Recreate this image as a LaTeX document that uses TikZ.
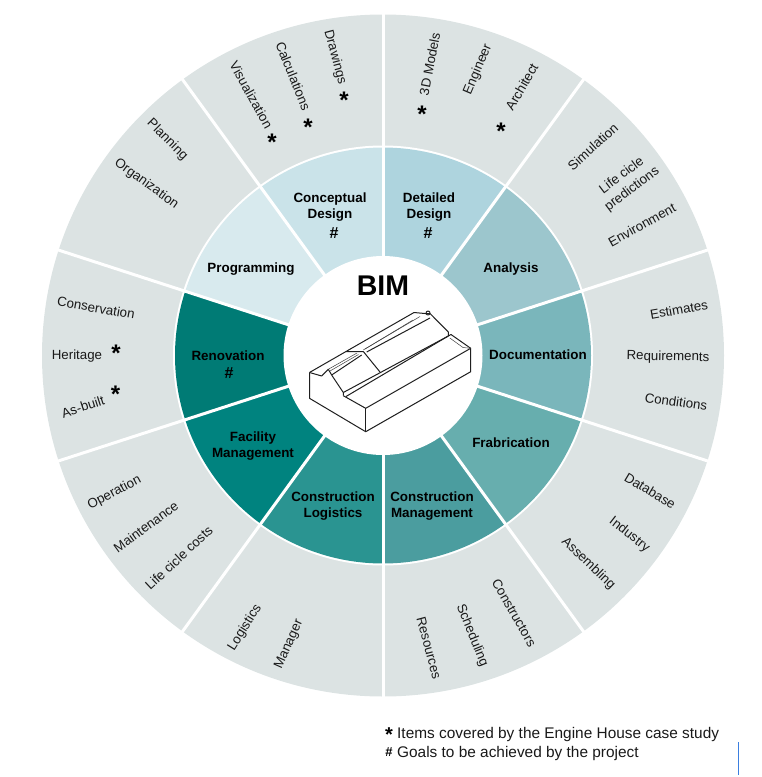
\documentclass[tikz,border=0pt]{standalone}
\usepackage{fontspec}
\setmainfont{Liberation Sans}
\definecolor{ringgrey}{HTML}{DCE3E3}
\definecolor{sA}{HTML}{CAE3E9}
\definecolor{sB}{HTML}{AED4DE}
\definecolor{sC}{HTML}{9CC6CD}
\definecolor{sD}{HTML}{7AB6BB}
\definecolor{sE}{HTML}{67AEAE}
\definecolor{sF}{HTML}{4B9D9F}
\definecolor{sG}{HTML}{2A9491}
\definecolor{sH}{HTML}{00837F}
\definecolor{sI}{HTML}{007B75}
\definecolor{sJ}{HTML}{D8EAEE}
\definecolor{marker}{HTML}{3B7FE0}
\tikzset{
 x=1pt,y=-1pt,
 lab/.style={font=\fontsize{13.3}{17}\selectfont,text=black!90,inner sep=0pt,text height=10pt,text depth=1pt},
 labtwo/.style={font=\fontsize{13.3}{17}\selectfont,text=black!90,inner sep=0pt,align=center},
 head/.style={font=\bfseries\fontsize{13.4}{16}\selectfont,text=black,inner sep=0pt,text height=11pt,text depth=1pt},
 headtwo/.style={font=\bfseries\fontsize{13.4}{16}\selectfont,text=black,inner sep=0pt,align=center},
 goalmark/.style={font=\bfseries\fontsize{16}{16}\selectfont,inner sep=0pt,text=black},
 covermark/.style={font=\bfseries\fontsize{24}{24}\selectfont,inner sep=0pt,text=black,anchor=base},
 legendmark/.style={font=\bfseries\fontsize{20}{20}\selectfont,inner sep=0pt,text=black,anchor=base},
 legend/.style={font=\fontsize{15.4}{16}\selectfont,inner sep=0pt,anchor=base west,text=black!90},
 bld/.style={draw=black!88,line width=1pt,line join=round,fill=none},
 bldthin/.style={draw=black!75,line width=0.5pt,line join=round},
}
\begin{document}
\begin{tikzpicture}
\useasboundingbox (0,0) rectangle (762,777);
\coordinate (c) at (383,355.5);
% rings
\fill[ringgrey] (c) circle[radius=341];
\fill[white] (c) circle[radius=210];
\foreach \a/\col in {90/sB,54/sC,18/sD,-18/sE,-54/sF,-90/sG,-126/sH,-162/sI,162/sJ,126/sA}{
  \fill[\col] (c) -- ++(\a:208 and -208) arc[start angle=\a,delta angle=-36,x radius=208,y radius=-208] -- cycle;
}
\foreach \a in {90,54,18,-18,-54,-90,-126,-162,162,126}{
  \draw[white,line width=3pt] (c) -- ++(\a:343 and -343);
}
\fill[white] (c) circle[radius=99.5];
% centre title
\node[font=\bfseries\fontsize{28.5}{29}\selectfont,inner sep=0pt,text=black] (bim) at (383,286) {BIM};
% building
\coordinate (A) at (309.5,372.5);
\coordinate (BL) at (309.5,398.3);
\coordinate (FB) at (365.7,431.7);
\coordinate (RB) at (470.7,371.7);
\coordinate (RT) at (470.7,348.3);
\coordinate (FT) at (365.7,408.3);
\coordinate (WL) at (343.3,395.7);
\coordinate (R1) at (346,351.5);
\coordinate (R2) at (363.3,351.5);
\coordinate (R3) at (414,312.5);
\coordinate (R4) at (425,313.5);
\coordinate (R5) at (430,313.5);
\coordinate (E1) at (448.3,332);
\coordinate (E2) at (448.3,336);
\coordinate (E3) at (343.3,392.5);
\draw[bld] (A) -- (BL) -- (FB) -- (RB) -- (RT) -- (FT) -- (WL);
\draw[bld] (FT) -- (FB);
\draw[bld] (A) -- (321.7,376) -- (328.3,369.3) -- (332.3,376) -- (E3) -- (WL);
\draw[bld] (A) -- (R1) -- (R3) -- (R4) -- (R5) -- (E1) -- (E2) -- (E3);
\draw[bld] (R1) -- (R2) -- (380,372);
\draw[bld] (E2) -- (346,396.5);
\draw[bld] (E2) -- (451,334.5) -- (RT);
\draw[bldthin] (E2) ++(1.5,2) -- (463,347.5) -- (RT);
\draw[bld] (428,313) circle[radius=2];
\draw[bldthin] (328.3,369.3) -- (357,353);
\draw[bldthin] (330,371) -- (358.5,354.5);
\draw[bld] (331.7,375) -- (361.7,355);
\draw[bldthin] (363.3,350) -- (413,320);
\draw[bldthin] (365,349) -- (420,316.5);
\draw[bld] (366.7,352) -- (430,318) ;
% sector titles
\node[headtwo] (n1) at (330,207.5) {Conceptual\\Design};
\node[headtwo] (n2) at (429,207.5) {Detailed\\Design};
\node[head] (n3) at (511,267) {Analysis};
\node[head] (n4) at (538,354) {Documentation};
\node[head] (n5) at (511,442) {Frabrication};
\node[headtwo] (n6) at (432,506) {Construction\\Management};
\node[headtwo] (n7) at (333,506) {Construction\\Logistics};
\node[headtwo] (n8) at (253,446) {Facility\\Management};
\node[head] (n9) at (228,355) {Renovation};
\node[head] (n10) at (251,267) {Programming};
\node[goalmark] (g1) at (334,233) {\#};
\node[goalmark] (g2) at (428,233) {\#};
\node[goalmark] (g3) at (229,373) {\#};
% outer labels
\node[lab,rotate=-61] (t1) at (251,95) {Visualization};
\node[lab,rotate=-68] (t2) at (293,76) {Calculations};
\node[lab,rotate=-75] (t3) at (336,57) {Drawings};
\node[lab,rotate=79] (t4) at (430,64) {3D Models};
\node[lab,rotate=67] (t5) at (477,69) {Engineer};
\node[lab,rotate=60] (t6) at (522,87) {Architect};
\node[lab,rotate=42] (t7) at (593,147) {Simulation};
\node[labtwo,rotate=37] (t8) at (627,182.5) {Life cicle\\predictions};
\node[lab,rotate=29] (t9) at (642,225) {Environment};
\node[lab,rotate=10] (t10) at (679,310) {Estimates};
\node[lab,rotate=-1] (t11) at (668,356) {Requirements};
\node[lab,rotate=-8] (t12) at (676,402) {Conditions};
\node[lab,rotate=-31] (t13) at (650,491) {Database};
\node[lab,rotate=-38] (t14) at (630,534) {Industry};
\node[lab,rotate=-44] (t15) at (589,563) {Assembling};
\node[lab,rotate=-60] (t16) at (514,613) {Constructors};
\node[lab,rotate=-68] (t17) at (473,635) {Scheduling};
\node[lab,rotate=-75] (t18) at (429,648) {Resources};
\node[lab,rotate=66] (t19) at (288,644) {Manager};
\node[lab,rotate=58] (t20) at (244,627) {Logistics};
\node[lab,rotate=43] (t21) at (179,558) {Life cicle costs};
\node[lab,rotate=36] (t22) at (146,527) {Maintenance};
\node[lab,rotate=28] (t23) at (114,492) {Operation};
\node[lab,rotate=18] (t24) at (83,407) {As-built};
\node[lab] (t25) at (77,355) {Heritage};
\node[lab,rotate=-10] (t26) at (96,308) {Conservation};
\node[lab,rotate=-36] (t27) at (147,183) {Organization};
\node[lab,rotate=-45] (t28) at (168,139) {Planning};
% covered marks
\foreach \i/\x/\y in {1/272/140,2/308/125,3/344/98,4/422/112,5/501/129,6/116/351,7/115.5/392}{
  \node[covermark] (s\i) at (\x,\y+10.5) {*};
}
% legend
\node[legendmark] (ls) at (389,733+8.8) {*};
\node[legend] (l1) at (397,738.5) {Items covered by the Engine House case study};
\node[font=\bfseries\fontsize{13}{14}\selectfont,inner sep=0pt,text=black] (lh) at (389,752.5) {\#};
\node[legend] (l2) at (397,757) {Goals to be achieved by the project};
% stray marker
\coordinate (m1) at (738.5,742);
\coordinate (m2) at (738.5,775);
\draw[marker,line width=1pt] (m1) -- (m2);
\end{tikzpicture}
\end{document}
